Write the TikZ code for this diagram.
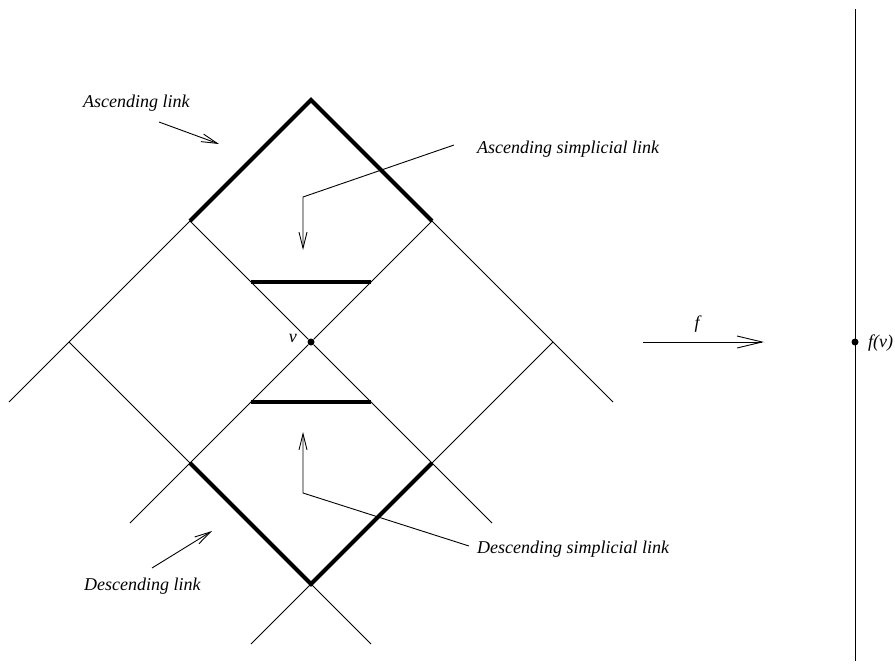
\documentclass[tikz,border=0pt]{standalone}
\usepackage{fontspec}
\setmainfont{Liberation Serif}
\usetikzlibrary{arrows.meta}
\begin{document}
\begin{tikzpicture}[x=1pt,y=-1pt,
  thin line/.style={line width=0.9pt},
  thick line/.style={line width=4pt},
  pointer/.style={line width=0.9pt,-{Straight Barb[length=16pt,width=8pt,line width=0.9pt]}},
  maparrow/.style={line width=0.9pt,-{Straight Barb[length=25pt,width=12pt,line width=0.9pt]}},
  lbl/.style={font=\fontsize{18}{20}\selectfont\itshape,inner sep=0pt},
  dot/.style={circle,fill=black,inner sep=0pt,minimum size=7pt}]
\useasboundingbox (0,0) rectangle (895,670);
% grid points
\coordinate (T) at (311,100);
\coordinate (L1) at (190,221);
\coordinate (R1) at (432,221);
\coordinate (LV) at (69,342);
\coordinate (RV) at (553,342);
\coordinate (B1) at (190,463);
\coordinate (B2) at (432,463);
\coordinate (BA) at (311,584);
\coordinate (E1) at (9,402);
\coordinate (E2) at (130,523);
\coordinate (E3) at (492,523);
\coordinate (E4) at (613,402);
\coordinate (E5) at (371,644);
\coordinate (E6) at (251,644);
\coordinate (H1) at (251,282);
\coordinate (H2) at (371,282);
\coordinate (H3) at (251,402);
\coordinate (H4) at (371,402);
\node[dot] (v) at (311,342) {};
% thin lines
\draw[thin line] (L1) -- (LV) -- (E1);
\draw[thin line] (R1) -- (v) -- (B1) -- (E2);
\draw[thin line] (RV) -- (B2);
\draw[thin line] (BA) -- (E6);
\draw[thin line] (R1) -- (RV) -- (E4);
\draw[thin line] (L1) -- (v) -- (B2) -- (E3);
\draw[thin line] (LV) -- (B1);
\draw[thin line] (BA) -- (E5);
% thick links
\draw[thick line] (L1) -- (T) -- (R1);
\draw[thick line] (B1) -- (BA) -- (B2);
\draw[thick line] (H1) -- (H2);
\draw[thick line] (H3) -- (H4);
% labels
\node[lbl,anchor=base east] (vl) at (297,342) {v};
\node[lbl,anchor=base west] (al) at (83,107) {Ascending link};
\node[lbl,anchor=base west] (asl) at (477,153) {Ascending simplicial link};
\node[lbl,anchor=base west] (dsl) at (477,553) {Descending simplicial link};
\node[lbl,anchor=base west] (dl) at (84,590) {Descending link};
% pointers
\coordinate (a1) at (159,122);
\coordinate (a2) at (219,144);
\draw[pointer] (a1) -- (a2);
\coordinate (b1) at (454,145);
\coordinate (b2) at (303,197);
\coordinate (b3) at (303,250);
\draw[pointer] (b1) -- (b2) -- (b3);
\coordinate (c1) at (469,546);
\coordinate (c2) at (303,493);
\coordinate (c3) at (303,432);
\draw[pointer] (c1) -- (c2) -- (c3);
\coordinate (d1) at (152,568);
\coordinate (d2) at (212,531);
\draw[pointer] (d1) -- (d2);
% map f
\coordinate (f1) at (643,342);
\coordinate (f2) at (764,342);
\draw[maparrow] (f1) -- (f2);
\node[lbl,anchor=base] (fl) at (697,328) {f};
% target line
\coordinate (top) at (855,9);
\coordinate (bot) at (855,661);
\draw[thin line] (top) -- (bot);
\node[dot] (fv) at (855,342) {};
\node[lbl,anchor=base west] (fvl) at (868,347) {f(v)};
\end{tikzpicture}
\end{document}
